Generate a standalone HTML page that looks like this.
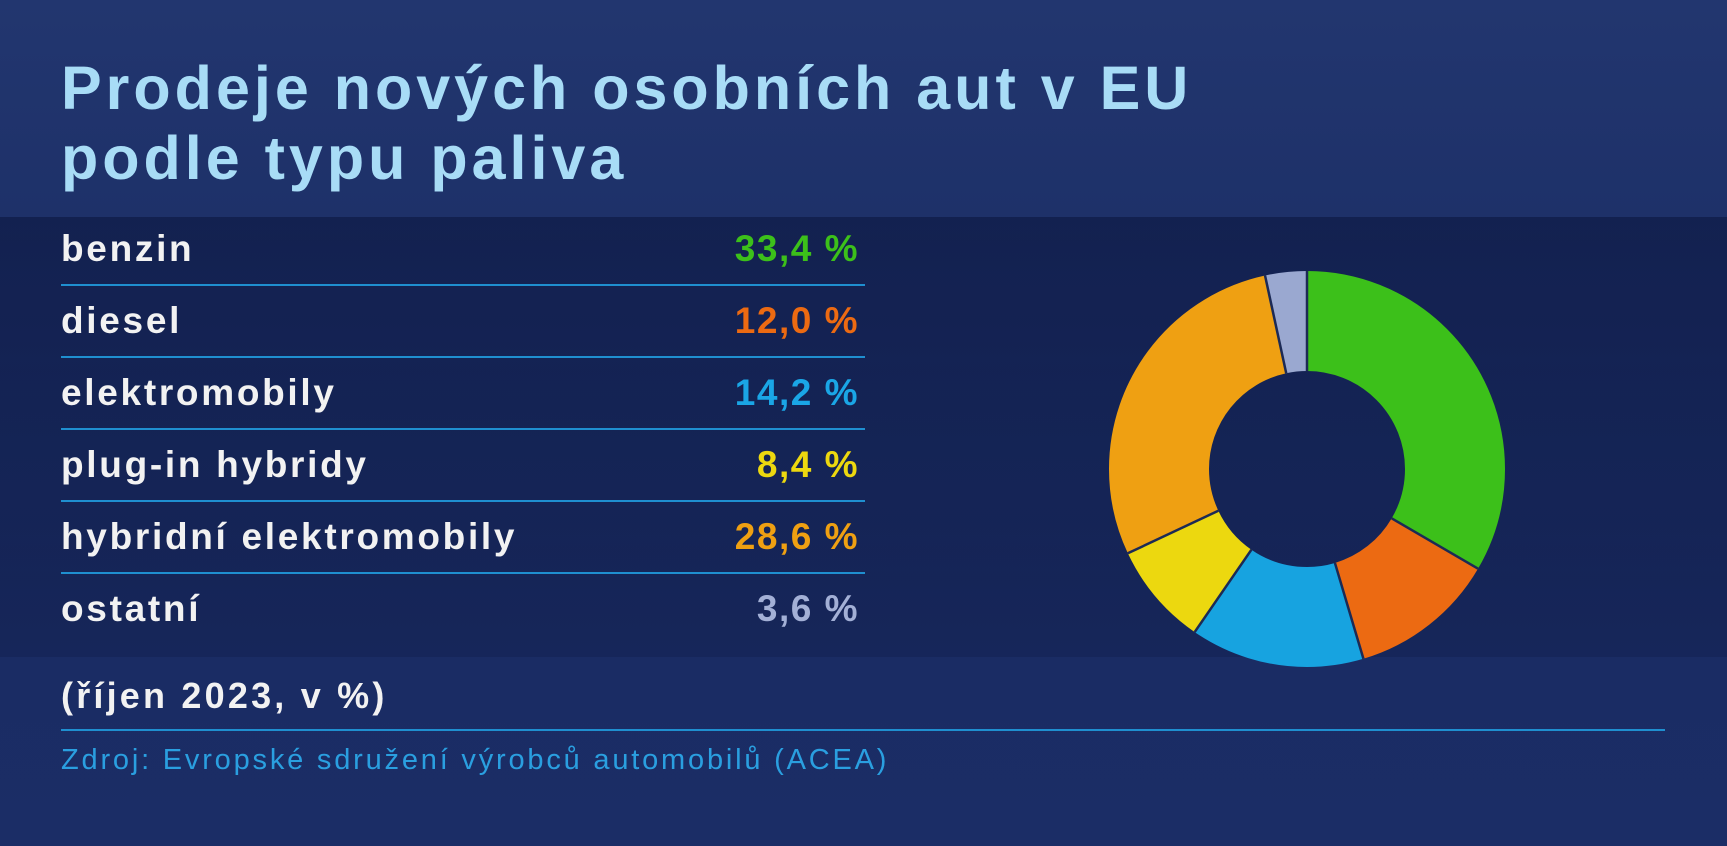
<!DOCTYPE html>
<html><head><meta charset="utf-8"><style>
html,body{margin:0;padding:0}
body{width:1727px;height:846px;overflow:hidden;position:relative;font-family:"Liberation Sans",sans-serif;
background:linear-gradient(180deg,#22366f 0%,#1d3068 30%,#1a2c63 70%,#1b2d66 100%);}
.band{position:absolute;left:0;top:217px;width:1727px;height:440px;background:linear-gradient(180deg,rgba(10,20,60,0.55),rgba(10,20,60,0.25));}
.title{position:absolute;left:61px;color:#a8dcf6;font-weight:bold;font-size:61px;line-height:70px;top:53px;letter-spacing:4px}
.row{position:absolute;left:61px;width:804px;height:72px;border-bottom:2px solid #1f8fd0;box-sizing:border-box;}
.row span{position:absolute;top:14px;font-size:37px;color:#f2f2f2;font-weight:bold;letter-spacing:2.7px}
.row .v{right:6px;letter-spacing:1.5px}
.note{position:absolute;left:61px;top:675px;font-size:36px;color:#f2f2f2;font-weight:bold;letter-spacing:3.2px}
.hl{position:absolute;left:61px;top:729px;width:1604px;height:2px;background:#1f8fd0}
.src{position:absolute;left:61px;top:744px;font-size:29px;color:#2a9fe0;letter-spacing:2.8px}
</style></head><body>
<div class="band"></div>
<div class="title">Prodeje nových osobních aut v EU<br>podle typu paliva</div>
<div class="row" style="top:214px"><span>benzin</span><span class="v" style="color:#3cc01a">33,4 %</span></div>
<div class="row" style="top:286px"><span>diesel</span><span class="v" style="color:#ec6a12">12,0 %</span></div>
<div class="row" style="top:358px"><span>elektromobily</span><span class="v" style="color:#1aa6e6">14,2 %</span></div>
<div class="row" style="top:430px"><span>plug-in hybridy</span><span class="v" style="color:#ecd80f">8,4 %</span></div>
<div class="row" style="top:502px"><span>hybridní elektromobily</span><span class="v" style="color:#efa012">28,6 %</span></div>
<div class="row" style="top:574px;border-bottom:none"><span>ostatní</span><span class="v" style="color:#a3b0d6">3,6 %</span></div>
<div class="note">(říjen 2023, v %)</div>
<div class="hl"></div>
<div class="src">Zdroj: Evropské sdružení výrobců automobilů (ACEA)</div>
<svg style="position:absolute;left:0;top:0" width="1727" height="846">
<g transform="translate(1307,469) rotate(-90)" fill="none" stroke-width="100">
<circle r="148" pathLength="100" stroke="#3cc01a" stroke-dasharray="33.4 100" stroke-dashoffset="0"/>
<circle r="148" pathLength="100" stroke="#ec6a12" stroke-dasharray="12 100" stroke-dashoffset="-33.4"/>
<circle r="148" pathLength="100" stroke="#17a3e0" stroke-dasharray="14.2 100" stroke-dashoffset="-45.4"/>
<circle r="148" pathLength="100" stroke="#ecd80f" stroke-dasharray="8.4 100" stroke-dashoffset="-59.6"/>
<circle r="148" pathLength="100" stroke="#efa012" stroke-dasharray="28.6 100" stroke-dashoffset="-68"/>
<circle r="148" pathLength="100" stroke="#9aa8d0" stroke-dasharray="3.6 100" stroke-dashoffset="-96.6"/>
</g>
<g transform="translate(1307,469)" stroke="#1c2a55" stroke-width="2.5">
<line x1="0" y1="-98" x2="0" y2="-198"/>
<line x1="0" y1="-98" x2="0" y2="-198" transform="rotate(120.24)"/>
<line x1="0" y1="-98" x2="0" y2="-198" transform="rotate(163.44)"/>
<line x1="0" y1="-98" x2="0" y2="-198" transform="rotate(214.56)"/>
<line x1="0" y1="-98" x2="0" y2="-198" transform="rotate(244.8)"/>
<line x1="0" y1="-98" x2="0" y2="-198" transform="rotate(347.76)"/>
</g>
</svg>
</body></html>
